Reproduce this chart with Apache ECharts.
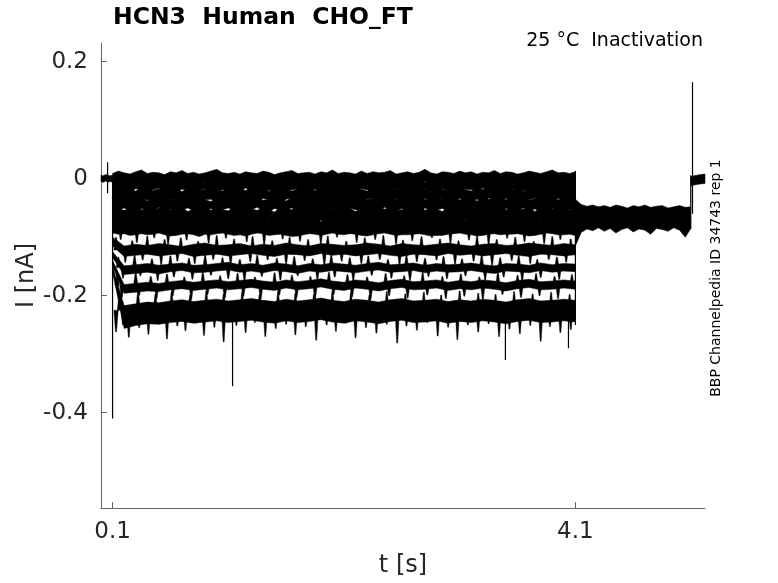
<!DOCTYPE html>
<html>
<head>
<meta charset="utf-8">
<script src="https://cdn.jsdelivr.net/npm/echarts@6/dist/echarts.min.js"></script>
<style>html,body{margin:0;padding:0;background:#fff;}#c{width:778px;height:583px;}</style>
</head>
<body>
<div id="c"></div>
<script>
// ---- data: each trace is read as its noise band (upper / lower edge) plus its narrow noise spikes; currents in pA, time in s ----
const xTicks = [0.1, 4.1];
const yTicks = [-0.4, -0.2, 0, 0.2];

const tPre = [0, 0.02, 0.04, 0.06, 0.08, 0.10];
const preHi = [6, 5, 7, 6, 5, 6];
const preLo = [-5, -6, -4, -6, -5, -6];

const tStep = [0.10, 0.15, 0.20, 0.25, 0.30, 0.35, 0.40, 0.45, 0.50,
  0.55, 0.60, 0.65, 0.70, 0.75, 0.80, 0.85, 0.90, 0.95,
  1.00, 1.05, 1.10, 1.15, 1.20, 1.25, 1.30, 1.35, 1.40,
  1.45, 1.50, 1.55, 1.60, 1.65, 1.70, 1.75, 1.80, 1.85,
  1.90, 1.95, 2.00, 2.05, 2.10, 2.15, 2.20, 2.25, 2.30,
  2.35, 2.40, 2.45, 2.50, 2.55, 2.60, 2.65, 2.70, 2.75,
  2.80, 2.85, 2.90, 2.95, 3.00, 3.05, 3.10, 3.15, 3.20,
  3.25, 3.30, 3.35, 3.40, 3.45, 3.50, 3.55, 3.60, 3.65,
  3.70, 3.75, 3.80, 3.85, 3.90, 3.95, 4.00, 4.05, 4.10];

const tr01Hi = [9, 13, 10, 8, 12, 15, 9, 11, 10, 7, 12, 10, 14, 9, 11, 8, 10, 13, 16, 10,
  9, 11, 8, 12, 10, 9, 13, 11, 7, 10, 12, 14, 9, 10, 11, 8, 12, 10, 15, 9,
  11, 10, 8, 13, 9, 12, 10, 11, 14, 8, 10, 12, 9, 11, 16, 10, 8, 12, 11, 9,
  13, 10, 12, 8, 11, 10, 14, 9, 12, 11, 8, 10, 13, 11, 9, 12, 15, 10, 11, 9, 12];
const tr01Lo = [-5, -8, -6, -9, -7, -5, -10, -6, -8, -7, -9, -6, -5, -8, -11, -7, -6, -9, -7, -5,
  -8, -10, -6, -7, -9, -5, -8, -6, -7, -10, -6, -8, -9, -5, -7, -8, -6, -11, -7, -6,
  -9, -5, -8, -7, -10, -6, -7, -9, -5, -8, -7, -6, -10, -8, -5, -9, -7, -6, -8, -11,
  -6, -7, -9, -5, -8, -7, -10, -6, -8, -7, -5, -9, -6, -8, -7, -11, -6, -8, -5, -7, -9];
const tr02Hi = [-4, -1, -3, -6, -2, -4, -3, 0, -5, -2, -3, -6, -1, -4, -2, -3, -7, -2, -4, -1,
  -5, -3, -2, -4, -6, -1, -3, -2, -5, -4, -2, -3, 1, -4, -3, -6, -2, -4, -1, -3,
  -5, -2, -4, -3, -1, -6, -3, -2, -4, -5, -1, -3, -4, -2, -6, -3, -1, -4, -2, -5,
  -3, -2, -6, -1, -4, -3, -2, -5, 0, -3, -4, -2, -5, -3, -1, -4, -6, -2, -3, -4, -2];
const tr02Lo = [-18, -21, -19, -23, -17, -20, -22, -19, -16, -21, -20, -24, -18, -19, -22, -20, -17, -21, -23, -19,
  -20, -18, -22, -16, -21, -19, -24, -20, -18, -21, -22, -19, -17, -20, -23, -18, -21, -20, -19, -25,
  -18, -20, -22, -17, -19, -21, -20, -23, -18, -16, -21, -19, -20, -24, -18, -22, -19, -17, -21, -20,
  -23, -18, -19, -21, -16, -20, -22, -19, -24, -18, -20, -21, -17, -19, -22, -20, -18, -23, -19, -21, -20];
const tr03Hi = [-17, -19, -15, -18, -21, -16, -18, -20, -17, -14, -19, -18, -22, -16, -17, -20, -18, -15, -19, -21,
  -16, -18, -17, -20, -14, -19, -18, -22, -16, -17, -19, -21, -17, -15, -18, -20, -16, -19, -18, -23,
  -17, -15, -19, -18, -21, -16, -17, -20, -18, -16, -20, -17, -14, -19, -18, -22, -16, -18, -20, -17,
  -15, -19, -21, -17, -18, -16, -20, -18, -14, -19, -18, -22, -16, -17, -19, -15, -18, -21, -17, -18, -16];
const tr03Lo = [-35, -38, -34, -36, -40, -33, -37, -35, -39, -36, -34, -37, -41, -35, -33, -38, -36, -35, -39, -34,
  -37, -36, -33, -40, -35, -38, -34, -36, -37, -42, -35, -33, -38, -36, -34, -39, -37, -35, -33, -38,
  -36, -40, -34, -37, -35, -33, -39, -36, -38, -34, -37, -35, -41, -36, -34, -38, -35, -33, -37, -39,
  -34, -36, -38, -35, -40, -33, -37, -36, -34, -38, -35, -39, -36, -33, -37, -35, -41, -34, -36, -38, -35];
const tr04Hi = [-33, -35, -31, -36, -34, -32, -38, -33, -35, -30, -34, -37, -33, -35, -31, -34, -36, -39, -32, -34,
  -35, -31, -33, -36, -34, -30, -37, -35, -33, -34, -38, -32, -35, -33, -31, -36, -34, -35, -32, -37,
  -33, -35, -34, -30, -36, -33, -38, -34, -32, -35, -31, -34, -36, -33, -35, -37, -32, -34, -30, -35,
  -36, -33, -34, -38, -32, -35, -33, -31, -36, -34, -35, -32, -37, -34, -33, -30, -35, -36, -33, -34, -32];
const tr04Lo = [-52, -55, -50, -54, -57, -51, -53, -56, -49, -54, -52, -58, -53, -50, -55, -52, -54, -51, -59, -53,
  -50, -54, -56, -52, -53, -49, -55, -57, -51, -54, -53, -50, -56, -52, -55, -53, -58, -51, -54, -52,
  -56, -50, -53, -55, -52, -57, -54, -49, -53, -56, -51, -54, -52, -58, -50, -55, -53, -51, -56, -54,
  -52, -57, -50, -53, -55, -52, -54, -59, -51, -53, -55, -50, -54, -52, -56, -53, -51, -55, -57, -52, -54];
const tr05Hi = [-49, -52, -54, -50, -47, -53, -51, -55, -50, -48, -53, -51, -49, -56, -52, -50, -47, -54, -51, -53,
  -55, -49, -51, -48, -52, -54, -50, -53, -57, -49, -51, -53, -48, -50, -55, -52, -49, -51, -54, -47,
  -52, -50, -56, -51, -49, -53, -48, -52, -50, -55, -53, -49, -51, -47, -54, -50, -52, -56, -49, -51,
  -48, -53, -50, -52, -55, -49, -47, -51, -53, -50, -54, -52, -49, -56, -50, -48, -52, -51, -47, -53, -50];
const tr05Lo = [-72, -76, -73, -70, -78, -74, -71, -77, -75, -69, -74, -79, -72, -75, -71, -73, -77, -70, -76, -74,
  -81, -72, -74, -70, -76, -73, -78, -71, -75, -72, -70, -77, -74, -79, -72, -75, -71, -73, -80, -74,
  -72, -76, -70, -74, -78, -71, -75, -73, -69, -77, -74, -72, -79, -75, -71, -76, -73, -70, -78, -72,
  -75, -71, -74, -77, -70, -82, -73, -76, -72, -74, -71, -78, -75, -73, -70, -76, -72, -79, -74, -71, -75];
const tr06Hi = [-67, -70, -65, -69, -72, -66, -68, -71, -64, -69, -67, -73, -68, -65, -70, -67, -69, -66, -74, -68,
  -65, -69, -71, -67, -68, -64, -70, -72, -66, -69, -68, -65, -71, -67, -70, -68, -73, -66, -69, -67,
  -71, -65, -68, -70, -67, -72, -69, -64, -68, -71, -66, -69, -67, -73, -65, -70, -68, -66, -71, -69,
  -67, -72, -65, -68, -70, -67, -69, -74, -66, -68, -70, -65, -69, -67, -71, -68, -66, -70, -72, -67, -69];
const tr06Lo = [-93, -95, -94, -97, -96, -94, -96, -95, -93, -96, -98, -97, -95, -94, -96, -99, -95, -96, -94, -93,
  -95, -97, -96, -98, -95, -93, -94, -97, -96, -95, -97, -99, -98, -96, -94, -95, -97, -95, -93, -95,
  -96, -94, -95, -97, -98, -96, -94, -93, -95, -97, -96, -96, -95, -94, -96, -98, -97, -97, -95, -94,
  -93, -95, -96, -98, -97, -95, -94, -96, -95, -95, -94, -96, -98, -97, -95, -93, -94, -96, -96, -95, -97];

const tDeep = [0.10, 0.20, 0.30, 0.40, 0.50, 0.60, 0.70, 0.80, 0.90, 1.00, 1.10,
  1.20, 1.30, 1.40, 1.50, 1.60, 1.70, 1.80, 1.90, 2.00, 2.10,
  2.20, 2.30, 2.40, 2.50, 2.60, 2.70, 2.80, 2.90, 3.00, 3.10,
  3.20, 3.30, 3.40, 3.50, 3.60, 3.70, 3.80, 3.90, 4.00, 4.10];
const tr07Hi = [-100, -115, -112, -114, -111, -113, -116, -112, -110, -114, -113,
  -111, -115, -112, -114, -110, -113, -115, -111, -112, -114,
  -113, -110, -112, -115, -111, -113, -114, -112, -110, -113,
  -115, -112, -111, -114, -113, -110, -112, -114, -111, -113];
const tr07Lo = [-115, -133, -131, -129, -132, -130, -128, -133, -131, -129, -132,
  -130, -128, -131, -133, -129, -130, -132, -128, -131, -129,
  -132, -130, -128, -131, -133, -129, -130, -132, -128, -131,
  -129, -132, -130, -128, -131, -133, -129, -130, -132, -130];
const tr08Hi = [-125, -149, -147, -145, -148, -146, -144, -148, -147, -145, -143,
  -147, -145, -148, -144, -146, -149, -145, -147, -144, -146,
  -148, -145, -143, -147, -146, -144, -148, -145, -147, -146,
  -144, -147, -149, -145, -146, -148, -144, -147, -145, -146];
const tr08Lo = [-135, -164, -162, -160, -163, -159, -157, -161, -160, -158, -156,
  -160, -158, -161, -157, -159, -162, -158, -160, -157, -159,
  -161, -158, -156, -160, -159, -157, -161, -158, -160, -159,
  -157, -160, -162, -158, -159, -161, -157, -160, -158, -159];
const tr09Hi = [-140, -181, -179, -177, -179, -176, -174, -177, -175, -173, -176,
  -174, -172, -175, -177, -173, -176, -174, -171, -175, -177,
  -173, -175, -178, -174, -172, -176, -175, -173, -177, -174,
  -176, -173, -175, -178, -174, -172, -176, -175, -173, -175];
const tr09Lo = [-150, -196, -194, -192, -193, -190, -188, -191, -189, -187, -190,
  -188, -186, -189, -191, -187, -190, -188, -185, -189, -191,
  -187, -189, -192, -188, -186, -190, -189, -187, -191, -188,
  -190, -187, -189, -192, -188, -186, -190, -189, -187, -189];
const tr10Hi = [-150, -217, -214, -211, -212, -209, -207, -210, -208, -206, -209,
  -207, -205, -208, -210, -206, -209, -207, -204, -208, -210,
  -206, -208, -211, -207, -205, -209, -208, -206, -210, -207,
  -209, -206, -208, -211, -207, -205, -209, -208, -206, -208];
const tr10Lo = [-160, -256, -251, -248, -249, -246, -244, -247, -245, -243, -246,
  -244, -242, -245, -247, -243, -246, -244, -241, -245, -247,
  -243, -245, -248, -244, -242, -246, -245, -243, -247, -244,
  -246, -243, -245, -248, -244, -242, -246, -245, -243, -245];

// narrow noise spikes of the lower traces: [time, tip pA], drawn from the trace centre
const sp06Dn = [[0.17, -104], [0.31, -109], [0.46, -101], [0.58, -112], [0.74, -105], [0.93, -110], [1.08, -102], [1.26, -108], [1.41, -113], [1.57, -103], [1.72, -107], [1.90, -111], [2.04, -100], [2.21, -109], [2.37, -104], [2.55, -112], [2.69, -106], [2.86, -101], [3.02, -110], [3.18, -105], [3.35, -113], [3.51, -102], [3.66, -108], [3.83, -111], [3.97, -104]];
const sp07Up = [[0.13, -100], [0.27, -106], [0.40, -98], [0.55, -104], [0.69, -101], [0.84, -107], [1.00, -97], [1.15, -103], [1.31, -99], [1.48, -106], [1.63, -100], [1.79, -104], [1.96, -98], [2.12, -107], [2.28, -101], [2.44, -97], [2.61, -105], [2.77, -99], [2.93, -103], [3.09, -106], [3.25, -98], [3.42, -104], [3.58, -100], [3.74, -107], [3.90, -99], [4.06, -103]];
const sp07Dn = [[0.21, -143], [0.36, -139], [0.52, -147], [0.66, -141], [0.81, -145], [0.97, -138], [1.12, -148], [1.29, -142], [1.44, -139], [1.60, -146], [1.76, -140], [1.93, -148], [2.08, -141], [2.25, -145], [2.41, -138], [2.58, -147], [2.73, -142], [2.90, -139], [3.06, -146], [3.22, -141], [3.38, -148], [3.55, -140], [3.71, -145], [3.87, -138], [4.02, -143]];
const sp08Up = [[0.15, -134], [0.29, -131], [0.44, -137], [0.60, -132], [0.76, -136], [0.90, -130], [1.05, -135], [1.20, -138], [1.35, -131], [1.52, -136], [1.67, -133], [1.83, -137], [1.99, -130], [2.15, -135], [2.31, -132], [2.48, -138], [2.64, -131], [2.80, -136], [2.96, -133], [3.12, -137], [3.29, -130], [3.45, -135], [3.61, -132], [3.77, -138], [3.94, -134]];
const sp08Dn = [[0.19, -170], [0.34, -166], [0.49, -174], [0.63, -168], [0.79, -172], [0.95, -165], [1.10, -171], [1.24, -175], [1.39, -167], [1.55, -173], [1.70, -166], [1.87, -172], [2.02, -168], [2.18, -175], [2.34, -165], [2.51, -170], [2.67, -174], [2.83, -167], [2.99, -171], [3.15, -166], [3.32, -173], [3.48, -168], [3.64, -175], [3.80, -169], [3.96, -172]];
const sp09Up = [[0.14, -165], [0.30, -161], [0.43, -167], [0.57, -163], [0.72, -168], [0.88, -160], [1.03, -166], [1.18, -162], [1.33, -168], [1.50, -161], [1.65, -165], [1.81, -167], [1.97, -160], [2.13, -164], [2.30, -168], [2.46, -162], [2.62, -166], [2.78, -161], [2.95, -167], [3.11, -163], [3.27, -168], [3.43, -160], [3.60, -165], [3.76, -162], [3.92, -167], [4.07, -164]];
const sp09Dn = [[0.18, -203], [0.33, -199], [0.48, -205], [0.62, -200], [0.78, -206], [0.92, -198], [1.07, -204], [1.23, -201], [1.38, -206], [1.54, -199], [1.69, -203], [1.85, -205], [2.01, -198], [2.17, -202], [2.33, -206], [2.49, -200], [2.65, -204], [2.82, -199], [2.98, -205], [3.14, -201], [3.30, -206], [3.47, -198], [3.63, -203], [3.79, -200], [3.95, -205]];
const sp10Up = [[0.16, -196], [0.32, -193], [0.47, -198], [0.61, -194], [0.77, -199], [0.91, -192], [1.06, -197], [1.22, -194], [1.37, -199], [1.53, -193], [1.68, -196], [1.84, -198], [2.00, -192], [2.16, -195], [2.32, -199], [2.47, -193], [2.63, -197], [2.79, -194], [2.94, -199], [3.10, -192], [3.26, -196], [3.41, -198], [3.57, -193], [3.73, -197], [3.89, -194], [4.05, -198]];
const sp10Dn = [[0.13, -262], [0.19, -250], [0.24, -271], [0.33, -255], [0.41, -266], [0.50, -248], [0.57, -274], [0.66, -252], [0.73, -260], [0.82, -247], [0.89, -268], [0.98, -254], [1.06, -279], [1.17, -251], [1.25, -263], [1.33, -246], [1.42, -270], [1.51, -256], [1.60, -249], [1.68, -267], [1.77, -253], [1.86, -276], [1.95, -250], [2.03, -261], [2.12, -247], [2.20, -272], [2.29, -255], [2.38, -264], [2.47, -249], [2.56, -281], [2.64, -252], [2.73, -259], [2.82, -246], [2.91, -269], [3.00, -254], [3.08, -275], [3.17, -250], [3.26, -262], [3.35, -248], [3.44, -270], [3.53, -257], [3.62, -265], [3.71, -251], [3.80, -278], [3.88, -253], [3.97, -263], [4.06, -258]];
const spikeCentres = [-85, -122, -122, -152, -152, -182, -182, -225, -225];

const tPost = [4.10, 4.15, 4.20, 4.25, 4.30, 4.35, 4.40, 4.45, 4.50, 4.55, 4.60, 4.65, 4.70, 4.75, 4.80, 4.85, 4.90, 4.95, 5.00, 5.05, 5.095];
const postHi = [-35, -44, -47, -45, -48, -46, -49, -45, -47, -50, -46, -48, -45, -49, -47, -46, -50, -48, -46, -49, -48];
const postLo = [-115, -92, -86, -89, -84, -90, -85, -93, -87, -84, -91, -86, -88, -95, -85, -87, -90, -84, -88, -100, -86];

const tTail = [5.097, 5.12, 5.15, 5.18, 5.22];
const tailHi = [3, 5, 6, 7, 8];
const tailLo = [-12, -11, -10, -9, -8];

// isolated large excursions: [time, from pA, to pA]
const spikes = [[0.057, 28, -25], [0.1, 0, -410], [1.137, -230, -355], [3.495, -240, -310],
  [4.04, -240, -290], [4.1, 13, -250], [5.097, -86, 6], [5.112, -60, 165]];

// ---- build ----
const PA_PER_NA = 1000;
const bands = [
  [tPre, preHi, preLo],
  [tStep, tr01Hi, tr01Lo], [tStep, tr02Hi, tr02Lo], [tStep, tr03Hi, tr03Lo], [tStep, tr04Hi, tr04Lo],
  [tStep, tr05Hi, tr05Lo], [tStep, tr06Hi, tr06Lo],
  [tDeep, tr07Hi, tr07Lo], [tDeep, tr08Hi, tr08Lo], [tDeep, tr09Hi, tr09Lo], [tDeep, tr10Hi, tr10Lo],
  [tPost, postHi, postLo],
  [tTail, tailHi, tailLo]
];
const spikeSets = [sp06Dn, sp07Up, sp07Dn, sp08Up, sp08Dn, sp09Up, sp09Dn, sp10Up, sp10Dn];

const series = bands.map(b => {
  const ts = b[0], hi = b[1], lo = b[2];
  const n = Math.min(ts.length, hi.length, lo.length);
  return {
    type: 'custom', silent: true, animation: false, clip: false,
    encode: { x: 0, y: 1 },
    data: [[ts[0], hi[0] / PA_PER_NA]],
    renderItem: function (params, api) {
      const pts = [];
      for (let k = 0; k < n; k++) pts.push(api.coord([ts[k], hi[k] / PA_PER_NA]));
      for (let k = n - 1; k >= 0; k--) pts.push(api.coord([ts[k], lo[k] / PA_PER_NA]));
      return { type: 'polygon', shape: { points: pts }, style: { fill: '#000', stroke: '#000', lineWidth: 0.5 } };
    }
  };
});
spikeSets.forEach((set, j) => {
  const base = spikeCentres[j] / PA_PER_NA;
  series.push({
    type: 'custom', silent: true, animation: false, clip: false,
    encode: { x: 0, y: 1 },
    data: set.map(p => [p[0], p[1] / PA_PER_NA]),
    renderItem: function (params, api) {
      const a = api.coord([api.value(0), base]);
      const b = api.coord([api.value(0), api.value(1)]);
      return {
        type: 'polygon',
        shape: { points: [[a[0] - 2.2, a[1]], [a[0] + 2.2, a[1]], [b[0] + 0.5, b[1]], [b[0] - 0.5, b[1]]] },
        style: { fill: '#000', stroke: '#000', lineWidth: 0.4 }
      };
    }
  });
});
spikes.forEach(s => series.push({
  type: 'line', showSymbol: false, symbol: 'none', silent: true, animation: false,
  lineStyle: { color: '#000', width: 1.2 },
  data: [[s[0], s[1] / PA_PER_NA], [s[0], s[2] / PA_PER_NA]]
}));

const FONT = 'DejaVu Sans';
const axisCol = '#666';
const chart = echarts.init(document.getElementById('c'), null, { renderer: 'canvas' });
chart.setOption({
  animation: false,
  backgroundColor: '#fff',
  title: {
    text: 'HCN3  Human  CHO_FT', left: 113, top: 6, padding: 0,
    textStyle: { fontFamily: FONT, fontSize: 23.5, fontWeight: 'bold', color: '#000' }
  },
  grid: { left: 101, right: 73, top: 43, bottom: 71, containLabel: false },
  xAxis: {
    type: 'value', min: 0, max: 5.22,
    name: 't [s]', nameLocation: 'middle', nameGap: 46, nameMoveOverlap: false,
    nameTextStyle: { fontFamily: FONT, fontSize: 24, color: '#262626' },
    axisLine: { onZero: false, lineStyle: { color: axisCol, width: 1 } },
    axisTick: { inside: true, length: 6, customValues: xTicks, lineStyle: { color: axisCol } },
    axisLabel: { customValues: xTicks, margin: 13, fontFamily: FONT, fontSize: 23, color: '#262626' },
    splitLine: { show: false }
  },
  yAxis: {
    type: 'value', min: -0.563, max: 0.232,
    name: 'I [nA]', nameLocation: 'middle', nameGap: 62, nameRotate: 90, nameMoveOverlap: false,
    nameTextStyle: { fontFamily: FONT, fontSize: 24, color: '#262626' },
    axisLine: { onZero: false, lineStyle: { color: axisCol, width: 1 } },
    axisTick: { inside: true, length: 6, customValues: yTicks, lineStyle: { color: axisCol } },
    axisLabel: { customValues: yTicks, margin: 13, fontFamily: FONT, fontSize: 23, color: '#262626' },
    splitLine: { show: false }
  },
  graphic: [
    { type: 'text', x: 703, y: 41, silent: true,
      style: { text: '25 °C  Inactivation', fontFamily: FONT, fontSize: 19, fill: '#000', align: 'right', verticalAlign: 'middle' } },
    { type: 'text', x: 716, y: 278, rotation: Math.PI / 2, silent: true,
      style: { text: 'BBP Channelpedia ID 34743 rep 1', fontFamily: FONT, fontSize: 14, fill: '#000', align: 'center', verticalAlign: 'middle' } }
  ],
  series: series
});
</script>
</body>
</html>
